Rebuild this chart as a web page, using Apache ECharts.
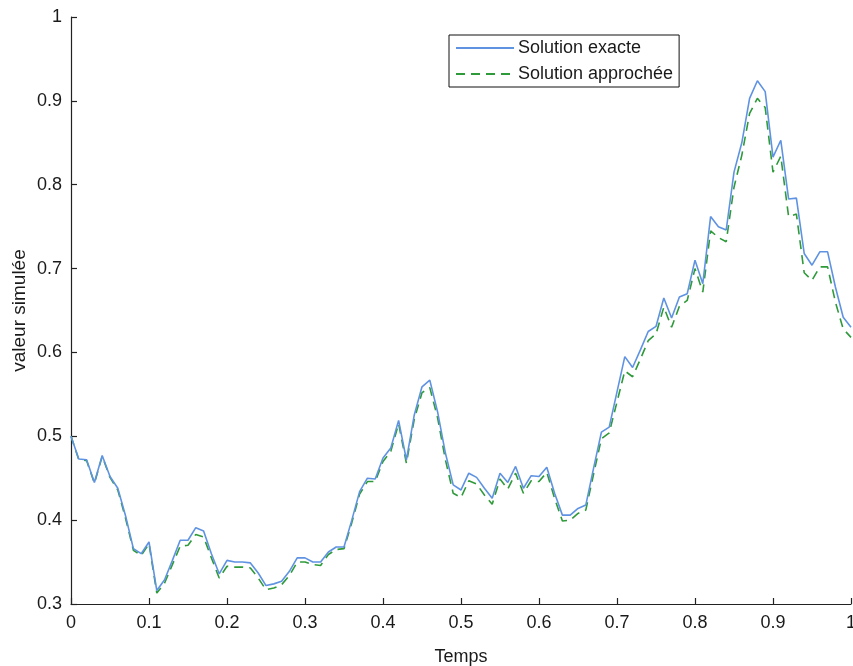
<!DOCTYPE html>
<html>
<head>
<meta charset="utf-8">
<script src="https://cdn.jsdelivr.net/npm/echarts@6/dist/echarts.min.js"></script>
<style>
  html, body { margin: 0; padding: 0; background: #fff; }
  #chart { width: 853px; height: 666px; }
</style>
</head>
<body>
<div id="chart"></div>
<script>
// Simulated trajectory sampled every 0.01 on [0, 1]
const pasTemps = 0.01;

const solutionExacte = [
  0.500, 0.473, 0.472, 0.445, 0.477, 0.452, 0.438, 0.405, 0.366, 0.360,
  0.374, 0.316, 0.329, 0.352, 0.376, 0.376, 0.391, 0.387, 0.360, 0.336,
  0.352, 0.350, 0.350, 0.349, 0.337, 0.322, 0.324, 0.327, 0.339, 0.355,
  0.355, 0.350, 0.350, 0.362, 0.368, 0.368, 0.400, 0.434, 0.450, 0.449,
  0.474, 0.486, 0.519, 0.472, 0.525, 0.559, 0.567, 0.529, 0.480, 0.442,
  0.436, 0.456, 0.451, 0.438, 0.426, 0.456, 0.445, 0.464, 0.438, 0.453,
  0.452, 0.463, 0.432, 0.406, 0.406, 0.414, 0.418, 0.462, 0.505, 0.511,
  0.553, 0.595, 0.582, 0.603, 0.625, 0.631, 0.665, 0.641, 0.666, 0.670,
  0.710, 0.682, 0.762, 0.750, 0.746, 0.815, 0.850, 0.903, 0.924, 0.911,
  0.833, 0.853, 0.783, 0.784, 0.718, 0.704, 0.720, 0.720, 0.678, 0.642,
  0.630
];

const solutionApprochee = [
  0.500, 0.472, 0.471, 0.444, 0.476, 0.451, 0.436, 0.402, 0.364, 0.358,
  0.372, 0.313, 0.325, 0.347, 0.369, 0.370, 0.383, 0.380, 0.355, 0.331,
  0.345, 0.344, 0.344, 0.343, 0.331, 0.317, 0.319, 0.323, 0.334, 0.350,
  0.350, 0.347, 0.346, 0.359, 0.365, 0.366, 0.397, 0.431, 0.446, 0.446,
  0.470, 0.482, 0.515, 0.468, 0.520, 0.552, 0.558, 0.522, 0.472, 0.432,
  0.427, 0.447, 0.443, 0.430, 0.419, 0.449, 0.437, 0.456, 0.432, 0.447,
  0.446, 0.457, 0.426, 0.399, 0.400, 0.408, 0.412, 0.455, 0.497, 0.504,
  0.541, 0.578, 0.571, 0.592, 0.614, 0.622, 0.654, 0.630, 0.655, 0.662,
  0.700, 0.672, 0.745, 0.737, 0.732, 0.797, 0.835, 0.885, 0.903, 0.892,
  0.815, 0.834, 0.762, 0.765, 0.695, 0.686, 0.702, 0.702, 0.660, 0.628,
  0.618
];

const nomsSeries = ['Solution exacte', 'Solution approchée'];
const titreX = 'Temps';
const titreY = 'valeur simulée';

const enPoints = (valeurs) =>
  valeurs.map((v, i) => [Math.round(i * pasTemps * 100) / 100, v]);

const police = 'Liberation Sans, Arial, Helvetica, sans-serif';
const couleurTexte = '#1a1a1a';

const axeCommun = {
  axisLine: { show: true, lineStyle: { color: '#222', width: 1.2 } },
  axisTick: { show: true, inside: true, length: 6, lineStyle: { color: '#222', width: 1.2 } },
  splitLine: { show: false },
  axisLabel: { fontFamily: police, fontSize: 18, color: couleurTexte }
};

const chart = echarts.init(document.getElementById('chart'), null, { renderer: 'canvas' });

chart.setOption({
  animation: false,
  backgroundColor: '#fff',
  grid: { left: 71, right: 2, top: 17, bottom: 62, containLabel: false, outerBoundsMode: 'none' },
  xAxis: Object.assign({}, axeCommun, {
    type: 'value',
    min: 0,
    max: 1,
    interval: 0.1,
    name: titreX,
    nameLocation: 'middle',
    nameGap: 44,
    nameMoveOverlap: false,
    nameTextStyle: { fontFamily: police, fontSize: 18, color: couleurTexte },
    axisLabel: Object.assign({}, axeCommun.axisLabel, { margin: 10 })
  }),
  yAxis: Object.assign({}, axeCommun, {
    type: 'value',
    min: 0.3,
    max: 1,
    interval: 0.1,
    name: titreY,
    nameLocation: 'middle',
    nameGap: 42,
    nameMoveOverlap: false,
    nameTextStyle: { fontFamily: police, fontSize: 19, color: couleurTexte },
    axisLabel: Object.assign({}, axeCommun.axisLabel, { margin: 9 })
  }),
  legend: {
    data: nomsSeries,
    orient: 'vertical',
    left: 449,
    top: 35,
    backgroundColor: '#fff',
    borderColor: '#111',
    borderWidth: 1,
    borderRadius: 0,
    padding: [4, 6, 4, 6],
    itemWidth: 58,
    itemHeight: 18,
    itemGap: 8,
    itemStyle: { opacity: 0 },
    textStyle: { fontFamily: police, fontSize: 18, color: couleurTexte, padding: [0, 0, 0, -1] }
  },
  series: [
    {
      name: nomsSeries[0],
      type: 'line',
      data: enPoints(solutionExacte),
      showSymbol: false,
      symbol: 'none',
      z: 3,
      lineStyle: { color: '#5f93e2', width: 1.6 },
      itemStyle: { color: '#5f93e2' }
    },
    {
      name: nomsSeries[1],
      type: 'line',
      data: enPoints(solutionApprochee),
      showSymbol: false,
      symbol: 'none',
      z: 2,
      lineStyle: { color: '#2f9a3a', width: 1.6, type: [9, 6] },
      itemStyle: { color: '#2f9a3a' }
    }
  ]
});
</script>
</body>
</html>
